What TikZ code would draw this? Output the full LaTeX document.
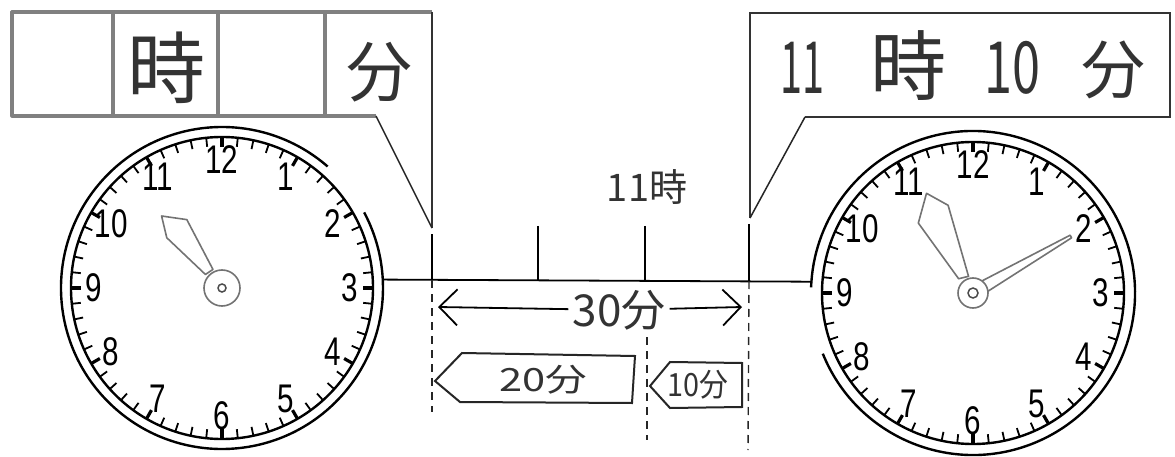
\documentclass[tikz,border=0pt]{standalone}
\usepackage{fontspec}
\setmainfont{Liberation Sans}
\newfontfamily\jp{Noto Sans CJK JP}
\usetikzlibrary{arrows.meta}

\begin{document}
\begin{tikzpicture}[x=1pt, y=1pt,
  pencil/.style={draw=black!50, line width=3.2pt, line join=round},
  ink/.style={draw=black!80, line width=2.4pt},
  thin ink/.style={draw=black!85, line width=1.5pt},
  ring/.style={draw=black, line width=2.4pt},
  guide/.style={draw=black!85, line width=1.4pt, dash pattern=on 8pt off 6pt},
  hand/.style={draw=black!55, line width=1.6pt, fill=white, line join=round},
  num/.style={font=\fontsize{40}{40}\selectfont, xscale=0.74, inner sep=0pt},
  jbig/.style={font=\jp\fontsize{#1}{#1}\selectfont, text=black!80, inner sep=0pt},
  face/.style={circle, minimum size=#1, inner sep=0pt, outer sep=0pt},
]
\fill[white] (0,0) rectangle (1175,-457);
\useasboundingbox (0,0) rectangle (1175,-457);

% clocks
\node[face=322pt] (clockL) at (222,-288) {};
\node[face=324pt] (clockR) at (973,-293) {};

% top boxes
\coordinate (tipL) at (432,-228);
\coordinate (tipR) at (750,-218);
\draw[pencil] (376,-116) -- (12,-116) -- (12,-12) -- (432,-12);
\foreach \x in {113,218,325} \draw[pencil] (\x,-12) -- (\x,-116);
\draw[ink] (432,-12) -- (tipL);
\draw[thin ink] (376,-116) -- (tipL);
\node[jbig=78pt] (boxL-h) at (166,-68) {時};
\node[jbig=66pt] (boxL-m) at (379,-72) {分};

\draw[ink] (805,-117) -- (1170,-117) -- (1170,-13) -- (750,-13) -- (tipR);
\draw[thin ink] (805,-117) -- (tipR);
\node[jbig=72pt, xscale=0.55] (boxR-hn) at (802,-68) {11};
\node[jbig=76pt] (boxR-h) at (908,-66) {時};
\node[jbig=72pt, xscale=0.7] (boxR-mn) at (1012,-68) {10};
\node[jbig=64pt] (boxR-m) at (1113,-70) {分};

% time line
\coordinate (t0) at (432,-280);
\coordinate (t1) at (538,-280);
\coordinate (t2) at (645,-280);
\coordinate (t3) at (749,-281);
\draw[line width=1.8pt] (clockL.3.5) -- (clockR.176.5);
\draw[line width=2.2pt] (432,-234) -- (t0);
\draw[line width=2.2pt] (538,-226) -- (t1);
\draw[line width=2.2pt] (645,-226) -- (t2);
\draw[line width=2.2pt] (749,-224) -- (t3);
\node[jbig=38pt] (eleven) at (647,-187) {11時};

% guides
\coordinate (g0) at (432,-412);
\coordinate (g2a) at (647,-337);
\coordinate (g2b) at (647,-440);
\coordinate (g3) at (748,-450);
\draw[guide] (t0) -- (g0);
\draw[guide] (g2a) -- (g2b);
\draw[guide] (t3) -- (g3);

% 30 minutes
\node[jbig=44pt, fill=white, inner sep=4pt] (span) at (619,-310) {30分};
\coordinate (a0) at (438,-307);
\coordinate (a1) at (742,-307);
\draw[line width=1.8pt, -{Straight Barb[length=18pt, width=36pt, line width=1.8pt]}] (span) -- (a0);
\draw[line width=1.8pt, -{Straight Barb[length=18pt, width=36pt, line width=1.8pt]}] (span) -- (a1);

% 20 and 10 minutes
\draw[thin ink, line width=2pt] (462,-353) -- (635,-356) -- (632,-403) -- (460,-402) -- (435,-381) -- cycle;
\node[jbig=32pt, xscale=1.3] (m20) at (543,-380) {20分};
\draw[thin ink, line width=2pt] (670,-362) -- (742,-363) -- (742,-407) -- (670,-408) -- (650,-386) -- cycle;
\node[jbig=32pt, xscale=0.9] (m10) at (698,-385) {10分};

% clock faces
\foreach \c in {clockL, clockR} {
  \foreach \m in {0,...,59}
    \draw[line width=1.8pt] (\c.center) ++({90-6*\m}:151) -- ++({270-6*\m}:9);
  \foreach \h in {0,...,11}
    \draw[line width=3.2pt] (\c.center) ++({90-30*\h}:151) -- ++({270-30*\h}:10);
  \foreach \n in {1,...,12}
    \path (\c.center) ++({90-30*\n}:128) node[num] (\c-\n) {\n};
  \draw[ring] (\c.center) circle[radius=151];
}
\draw[ring] (clockL.center) ++(49:161) arc[start angle=49, end angle=388, radius=161];
\draw[ring] (clockR.center) ++(202:162) arc[start angle=202, end angle=538, radius=162];

% hands
\begin{scope}[shift={(clockL.center)}, rotate=-320]
  \draw[hand] (0,94) -- (17,75) -- (5,20) -- (-4,21) -- (-10,74) -- cycle;
\end{scope}
\begin{scope}[shift={(clockR.center)}, rotate=-335]
  \draw[hand] (0,110) -- (14.5,90) -- (3,17) -- (-7,19) -- (-20,86.5) -- cycle;
\end{scope}
\begin{scope}[shift={(clockR.center)}, rotate=-60]
  \draw[hand] (-6,13) -- (-1.5,113) -- (1.5,113) -- (6,13) -- cycle;
\end{scope}
\draw[hand] (clockL.center) circle[radius=18];
\draw[line width=1.5pt, black!70] (clockL.center) circle[radius=4];
\draw[hand] (clockR.center) circle[radius=15];
\draw[line width=1.5pt, black!70] (clockR.center) circle[radius=5];
\end{tikzpicture}
\end{document}
